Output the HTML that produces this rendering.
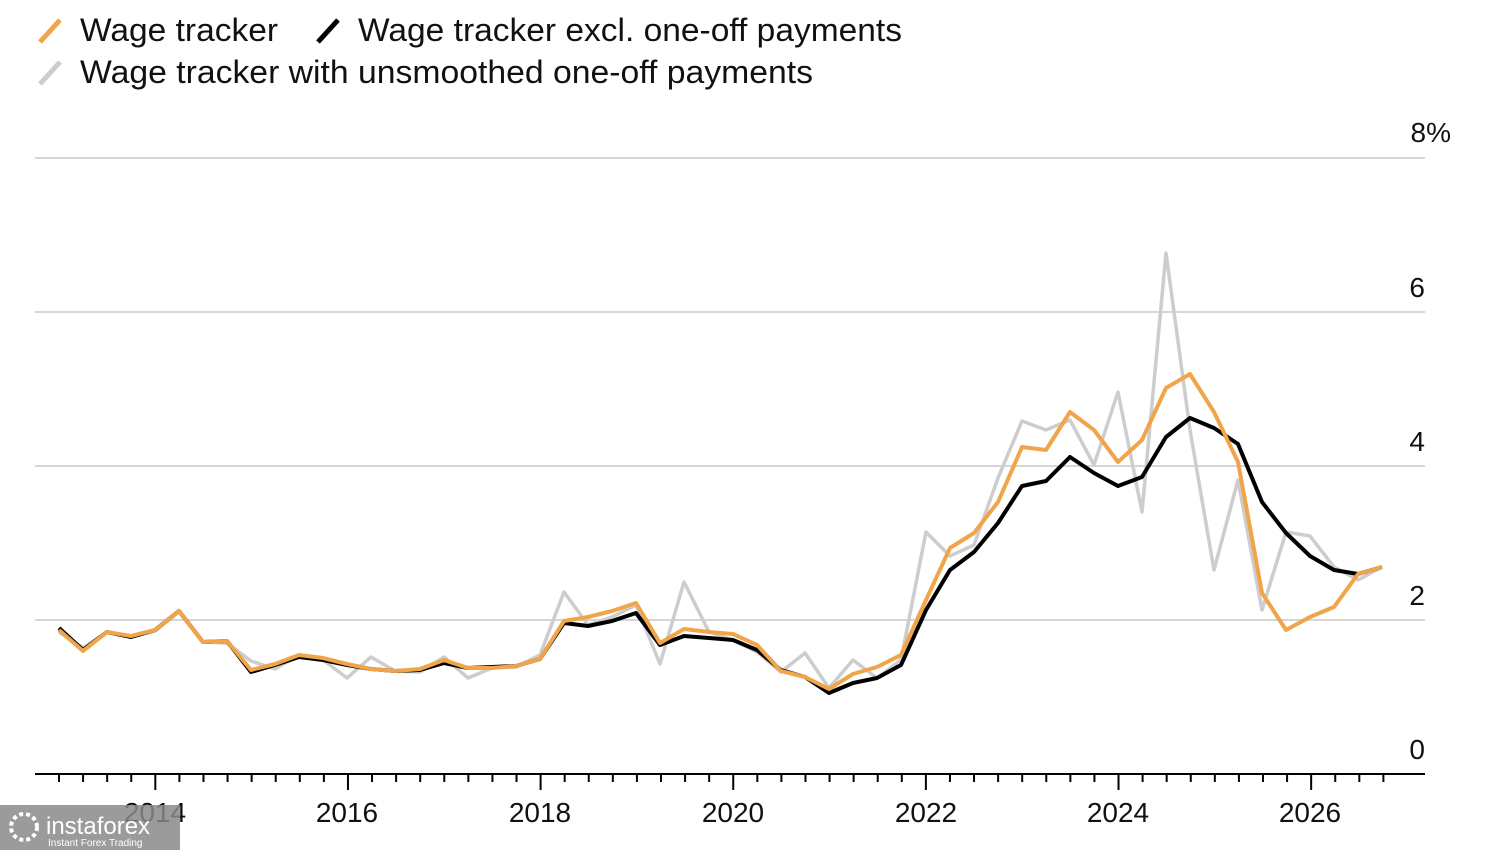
<!DOCTYPE html>
<html><head><meta charset="utf-8"><style>
html,body{margin:0;padding:0;background:#fff;}
body{width:1500px;height:850px;overflow:hidden;font-family:"Liberation Sans",sans-serif;}
</style></head><body>
<svg width="1500" height="850" viewBox="0 0 1500 850" xmlns="http://www.w3.org/2000/svg" font-family="Liberation Sans, sans-serif">
<rect width="1500" height="850" fill="#fff"/>
<line x1="40" y1="42" x2="60" y2="20" stroke="#f0a54a" stroke-width="5"/>
<text x="80" y="41" font-size="32" fill="#111" textLength="198" lengthAdjust="spacingAndGlyphs">Wage tracker</text>
<line x1="318" y1="42" x2="338" y2="20" stroke="#000" stroke-width="5"/>
<text x="358" y="41" font-size="32" fill="#111" textLength="544" lengthAdjust="spacingAndGlyphs">Wage tracker excl. one-off payments</text>
<line x1="40" y1="84" x2="60" y2="62" stroke="#ccc" stroke-width="5"/>
<text x="80" y="83" font-size="32" fill="#111" textLength="733" lengthAdjust="spacingAndGlyphs">Wage tracker with unsmoothed one-off payments</text>
<g stroke="#d6d6d6" stroke-width="2">
<line x1="35" y1="158" x2="1425" y2="158"/>
<line x1="35" y1="312" x2="1425" y2="312"/>
<line x1="35" y1="466" x2="1425" y2="466"/>
<line x1="35" y1="620" x2="1425" y2="620"/>
</g>
<line x1="35" y1="774" x2="1425" y2="774" stroke="#000" stroke-width="2"/>
<g font-size="28" fill="#111" text-anchor="end">
<text x="1451" y="142">8%</text>
<text x="1425" y="297">6</text>
<text x="1425" y="451">4</text>
<text x="1425" y="605">2</text>
<text x="1425" y="759">0</text>
</g>
<g stroke="#000" stroke-width="2" id="ticks"></g>
<g font-size="28" fill="#111" text-anchor="middle">
<text x="155" y="822">2014</text><text x="347" y="822">2016</text><text x="540" y="822">2018</text>
<text x="733" y="822">2020</text><text x="926" y="822">2022</text><text x="1118" y="822">2024</text><text x="1310" y="822">2026</text>
</g>
<polyline fill="none" stroke="#cdcdcd" stroke-width="3.5" stroke-linejoin="round" points="59,632 83,648 107,632 131,637 155,631 179,611 203,642 227,643 251,661 275,669 299,655 323,660 347,678 371,657 395,671 420,672 444,657 468,678 492,668 516,667 540,655 564,592 588,625 612,617 636,605 660,664 684,582 709,632 733,640 757,652 781,672 805,653 829,688 853,660 877,678 901,660 926,532 950,556 974,545 998,478 1022,421 1046,430 1070,420 1094,465 1118,392 1142,512 1166,253 1190,430 1214,570 1238,480 1262,610 1286,532 1310,536 1334,567 1358,580 1382,567"/>
<polyline fill="none" stroke="#000" stroke-width="4" stroke-linejoin="round" points="59,628 83,650 107,632 131,637 155,630 179,611 203,642 227,641 251,672 275,665 299,657 323,660 347,665 371,669 395,671 420,670 444,663 468,668 492,667 516,666 540,659 564,623 588,626 612,621 636,613 660,645 684,636 709,638 733,640 757,650 781,670 805,677 829,693 853,683 877,678 901,665 926,610 950,570 974,552 998,523 1022,486 1046,481 1070,457 1094,473 1118,486 1142,477 1166,437 1190,418 1214,428 1238,444 1262,502 1286,533 1310,556 1334,570 1358,574 1382,567"/>
<polyline fill="none" stroke="#f0a54a" stroke-width="4" stroke-linejoin="round" points="59,630 83,651 107,632 131,636 155,630 179,611 203,642 227,641 251,670 275,664 299,655 323,658 347,664 371,669 395,671 420,669 444,660 468,668 492,668 516,666 540,659 564,621 588,617 612,611 636,603 660,643 684,629 709,632 733,634 757,645 781,671 805,677 829,689 853,674 877,667 901,655 926,600 950,548 974,533 998,502 1022,447 1046,450 1070,412 1094,430 1118,462 1142,440 1166,388 1190,374 1214,412 1238,462 1262,593 1286,630 1310,617 1334,607 1358,574 1382,567"/>
<rect x="0" y="805" width="180" height="45" fill="#8a8a8a" opacity="0.85"/>
<circle cx="24" cy="827" r="13" fill="none" stroke="#fff" stroke-width="4" stroke-dasharray="4 3"/>
<text x="46" y="834" font-size="24" fill="#fff">instaforex</text>
<text x="48" y="846" font-size="10" fill="#fff">Instant Forex Trading</text>
</svg>
<script>
var g=document.getElementById('ticks');
for(var i=0;i<56;i++){var x=59+24.08*i;var l=document.createElementNS('http://www.w3.org/2000/svg','line');
l.setAttribute('x1',x);l.setAttribute('x2',x);l.setAttribute('y1',774);l.setAttribute('y2',(i%8==4)?790:782);g.appendChild(l);}
</script>
</body></html>
